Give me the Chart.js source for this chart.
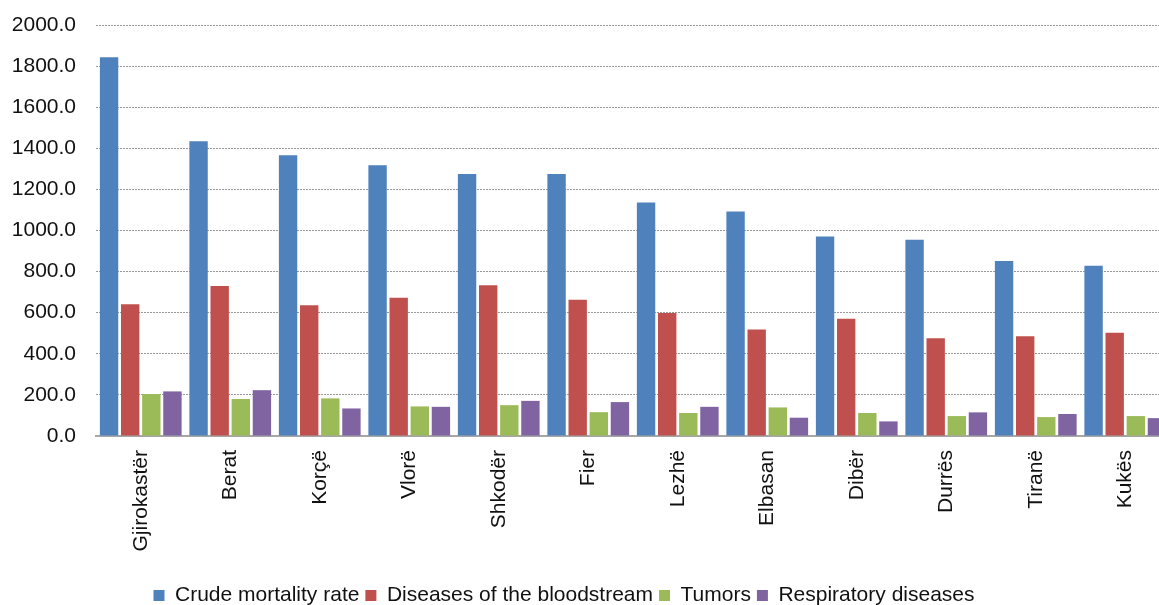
<!DOCTYPE html>
<html>
<head>
<meta charset="utf-8">
<script src="https://cdn.jsdelivr.net/npm/chart.js@4.4.1/dist/chart.umd.min.js"></script>
<style>
  html, body { margin:0; padding:0; background:#fff; overflow:hidden; }
  #wrap { position:absolute; left:0; top:0; width:1172px; height:616px; }
</style>
</head>
<body>
<div id="wrap"><canvas id="chart" width="1172" height="616"></canvas></div>
<script>
/* regions sorted by crude mortality rate */
const regions = ["Gjirokastër","Berat","Korçë","Vlorë","Shkodër","Fier","Lezhë","Elbasan","Dibër","Durrës","Tiranë","Kukës"];

const crudeRate   = [1843, 1434, 1366, 1317, 1275, 1275, 1136, 1092, 971, 955, 851, 829];
const bloodstream = [641, 730, 636, 673, 733, 663, 599, 518, 571, 476, 485, 502];
const tumors      = [204, 180, 183, 144, 150, 116, 112, 139, 112, 97, 92, 97];
const respiratory = [217, 223, 134, 142, 171, 165, 142, 89, 71, 115, 107, 87];

const FONT = { family: "'Liberation Sans', Arial, sans-serif", size: 21 };

// legend sits a bit left of canvas centre in the original
const legendShift = {
  id: "legendShift",
  afterLayout(chart) {
    if (!chart.legend) return;
    chart.legend.left -= 21;
    chart.legend.right -= 21;
  }
};

const mk = (label, data, color) => ({
  label, data, backgroundColor: color, borderWidth: 0,
  categoryPercentage: 0.944, barPercentage: 0.87
});

new Chart(document.getElementById("chart").getContext("2d"), {
  type: "bar",
  data: {
    labels: regions,
    datasets: [
      mk("Crude mortality rate", crudeRate, "#4F81BD"),
      mk("Diseases of the bloodstream", bloodstream, "#C0504D"),
      mk("Tumors", tumors, "#9BBB59"),
      mk("Respiratory diseases", respiratory, "#8064A2")
    ]
  },
  options: {
    responsive: false,
    animation: false,
    layout: { padding: { top: 25, right: 2, left: 0, bottom: 0 } },
    plugins: {
      tooltip: { enabled: false },
      legend: {
        position: "bottom",
        labels: { font: FONT, color: "#111", boxWidth: 11, boxHeight: 11, padding: 6 }
      }
    },
    scales: {
      x: {
        grid: { display: true, drawOnChartArea: false, drawTicks: false },
        border: { display: true, color: "#A6A6A6", width: 2 },
        ticks: { font: FONT, color: "#111", minRotation: 90, maxRotation: 90, padding: 14, autoSkip: false },
        afterFit(s) { s.height = 143; }
      },
      y: {
        min: 0, max: 2000,
        grid: { color: "#999", lineWidth: 1, drawTicks: true, tickLength: 18, tickColor: "transparent" },
        border: { display: false, dash: [2, 1] },
        ticks: { font: FONT, color: "#111", stepSize: 200, padding: 2,
                 callback: v => Number(v).toFixed(1) },
        afterFit(s) { s.width = 96; }
      }
    }
  },
  plugins: [legendShift]
});
</script>
</body>
</html>
